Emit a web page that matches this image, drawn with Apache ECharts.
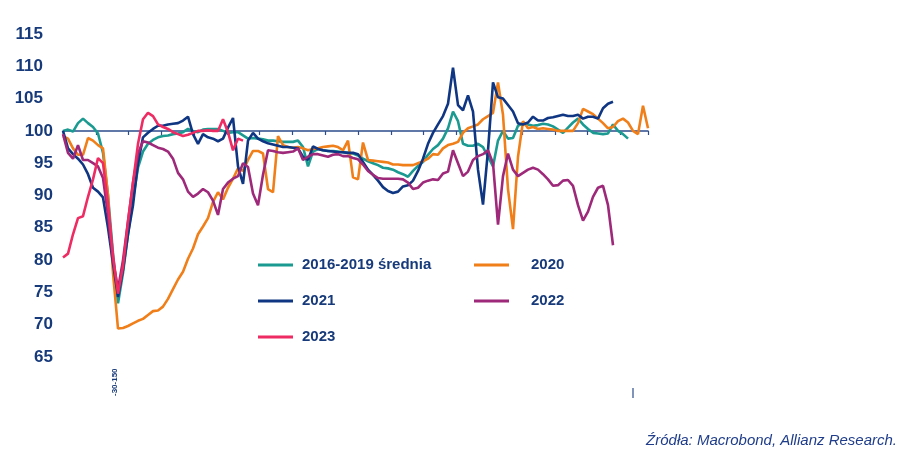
<!DOCTYPE html>
<html><head><meta charset="utf-8">
<script src="https://cdn.jsdelivr.net/npm/echarts@6/dist/echarts.min.js"></script>
<style>html,body{margin:0;padding:0;background:#fff}#c{width:905px;height:461px}</style>
</head><body><div id="c"></div>
<script>
// ---- data ----
const yTicks = [65, 70, 75, 80, 85, 90, 95, 100, 105, 110, 115];
const seriesNames = ['2016-2019 średnia', '2020', '2021', '2022', '2023'];
const avg1619 = [100,100.2,99.9,101.2,101.9,101.2,100.6,99.6,96.6,90,81,73.3,78,84,89.5,94.3,96.8,98,98.6,99,99.2,99.3,99.5,99.6,99.8,100.3,100,99.8,100.2,100.3,100.3,100.3,100,99.7,99.8,99.8,99.3,98.8,98.9,98.8,98.7,98.5,98.5,98.4,98.3,98.3,98.3,98.5,97.5,94.5,96.8,97.2,97,96.9,96.9,96.8,96.7,96.6,96.5,96.2,95.7,95.3,95,94.7,94.3,94.2,94,93.6,93.3,92.9,93.8,94.6,95.2,96.3,97.2,97.8,98.8,100.4,103,101.5,98,97.7,97.7,98,97.5,96,94.5,98.5,100,98.8,98.9,100.8,101.2,101,100.8,100.9,101.1,101,100.7,100.2,99.7,100.5,101.3,101.9,101,100.3,99.7,99.6,99.5,99.6,101,100,99.5,98.8,null,null,null,null];
const y2020 = [99.2,98.8,97.3,96.3,96.3,98.9,98.5,97.8,97.3,90,78,69.4,69.5,69.8,70.2,70.6,70.9,71.5,72.1,72.2,72.8,74,75.5,77,78.2,80.2,81.8,84,85.2,86.5,89,90.5,89.4,91.2,92.6,94.2,93.8,95.5,96.9,96.9,96.5,91,90.5,99.2,97.8,97.5,97.4,97.5,97.3,97,97.2,97.3,97.5,97.6,97.7,97.5,97,98.5,92.8,92.5,98.2,95.5,95.4,95.3,95.2,95.1,94.8,94.8,94.7,94.7,94.7,95,95.3,95.7,96.4,96.3,97.3,97.8,98,98.3,99.7,100.4,100.7,101,101.8,102.3,102.8,107.5,102.5,91,84.8,96,101.5,100.4,100.6,100.3,100.4,100.3,100.2,100,100,100,100,101.2,103.4,103,102.6,101.9,101.2,100.4,100.6,101.5,101.9,101.3,100,99.5,103.9,100.4];
const y2021 = [100,97.3,96.4,95.7,94.8,93.3,91.2,90.6,89.7,85,79.5,74.3,78.5,84,88.5,95,99,99.7,100.3,100.8,100.8,101,101.1,101.2,101.6,102.2,99.5,98,99.5,99,98.8,98.4,98.8,100.5,102,94.5,91.8,98.5,99.7,98.8,98.4,98.1,97.9,97.7,97.5,97.5,97.4,97.3,96,95.5,97.6,97.2,97,96.9,96.8,96.7,96.7,96.6,96.6,96.4,95.2,94,93.2,92.3,91.3,90.7,90.4,90.6,91.4,91.6,92.3,93.8,95.7,98,99.7,101,102.3,104.2,109.8,104,103.2,105.5,103,94,88.6,97,107.5,105.2,105,104,103,101.2,101,101.3,102.2,101.6,101.6,102,102.1,102.3,102.5,102.3,102.3,102.5,101.9,102.2,102.2,101.9,103.5,104.2,104.5,null,null,null,null,null,null,null];
const y2022 = [99.5,96.6,95.7,97.8,95.5,95.5,95,94.5,92.7,87,80,75.5,80,86,92,96.5,98.4,98.2,97.8,97.4,97.2,96.8,95.7,93.5,92.5,90.6,89.8,90.3,91,90.5,89.2,87,91,92,92.6,93,95,94.4,90.3,88.5,93.2,97,96.9,96.7,96.6,96.7,96.8,97.3,95.5,96,96.4,96.4,96.2,96,96.3,96.4,96.1,96.1,95.8,95.6,94.8,93.8,93.2,92.7,92.6,92.6,92.6,92.6,92.5,92,91,91.2,92,92.3,92.5,92.4,93.4,93.7,97,95,93,93.7,95.5,96.1,96.4,97,95,85.5,93,96.5,94,93,93.5,94,94.3,94,93.3,92.5,91.5,91.6,92.3,92.4,91.5,88.5,86.1,87.5,89.8,91.2,91.5,88.5,82.3,null,null,null,null,null,null,null];
const y2023 = [80.4,81,84,86.5,86.8,89.8,92.5,95.8,95,88.7,80.7,74.8,79,86,92,98,101.8,102.8,102.3,101,100.6,100.3,99.8,99.5,99.2,99.4,99.7,100,100,100.1,100,100,101.8,99.8,97,98.8,98.5];
const categories = avg1619.map((v, i) => String(i));
const colors = ['#1a9a90', '#f07f1a', '#0f3682', '#9e2879', '#ee2b62'];
const navy = '#173a7a';
const seriesData = [avg1619, y2020, y2021, y2022, y2023];

const chart = echarts.init(document.getElementById('c'));
const font = 'Liberation Sans, Arial, sans-serif';

const legendPos = [
  {name: '2016-2019 średnia', left: 253, top: 251, pad: 4},
  {name: '2020', left: 469, top: 251, pad: 17},
  {name: '2021', left: 253, top: 287, pad: 4},
  {name: '2022', left: 469, top: 287, pad: 17},
  {name: '2023', left: 253, top: 323, pad: 4}
];

const drawOrder = [0, 1, 3, 2, 4];

chart.setOption({
  backgroundColor: '#ffffff',
  animation: false,
  grid: {left: 63, right: 257, top: 34, bottom: 104},
  xAxis: [
    {type: 'category', data: categories, boundaryGap: false, show: false},
    {type: 'value', min: 0, max: 17.84, interval: 1, position: 'bottom', offset: -226,
     axisLine: {show: true, lineStyle: {color: '#2d4c8c', width: 1.5}},
     axisTick: {show: true, length: 4, lineStyle: {color: '#2d4c8c', width: 1.2}},
     axisLabel: {show: false}, splitLine: {show: false}}
  ],
  yAxis: {
    type: 'value', min: yTicks[0], max: yTicks[yTicks.length - 1], interval: 5,
    axisLine: {show: false}, axisTick: {show: false}, splitLine: {show: false},
    axisLabel: {
      margin: 10,
      formatter: v => v > 100 ? '{hi|' + v + '}' : '{lo|' + v + '}',
      rich: {
        hi: {fontFamily: font, fontWeight: 'bold', fontSize: 17, color: navy, padding: [0, 10, 0, 0]},
        lo: {fontFamily: font, fontWeight: 'bold', fontSize: 17, color: navy}
      }
    }
  },
  legend: legendPos.map(l => ({
    data: [l.name], left: l.left, top: l.top, orient: 'horizontal',
    icon: 'rect', itemWidth: 35, itemHeight: 3, selectedMode: false,
    textStyle: {fontFamily: font, fontWeight: 'bold', fontSize: 15, color: navy, padding: [0, 0, 0, l.pad], lineHeight: 18}
  })),
  series: drawOrder.map(k => ({
    name: seriesNames[k], type: 'line', xAxisIndex: 0, data: seriesData[k],
    showSymbol: false, symbol: 'none', smooth: false, connectNulls: false,
    lineStyle: {color: colors[k], width: 2.6}, itemStyle: {color: colors[k]},
    z: 3 + k
  })),
  graphic: [
    {type: 'text', left: null, right: 8, top: 433,
     style: {text: 'Źródła: Macrobond, Allianz Research.', fontFamily: font, fontStyle: 'italic', fontSize: 15, fill: '#1f3d8a'}},
    {type: 'text', x: 111, y: 396, rotation: Math.PI / 2,
     style: {text: '-30-150', fontFamily: font, fontWeight: 'bold', fontSize: 8, fill: navy}},
    {type: 'line', shape: {x1: 633, y1: 388, x2: 633, y2: 398}, style: {stroke: '#2d4c8c', lineWidth: 1.2}}
  ]
});
</script>
</body></html>
